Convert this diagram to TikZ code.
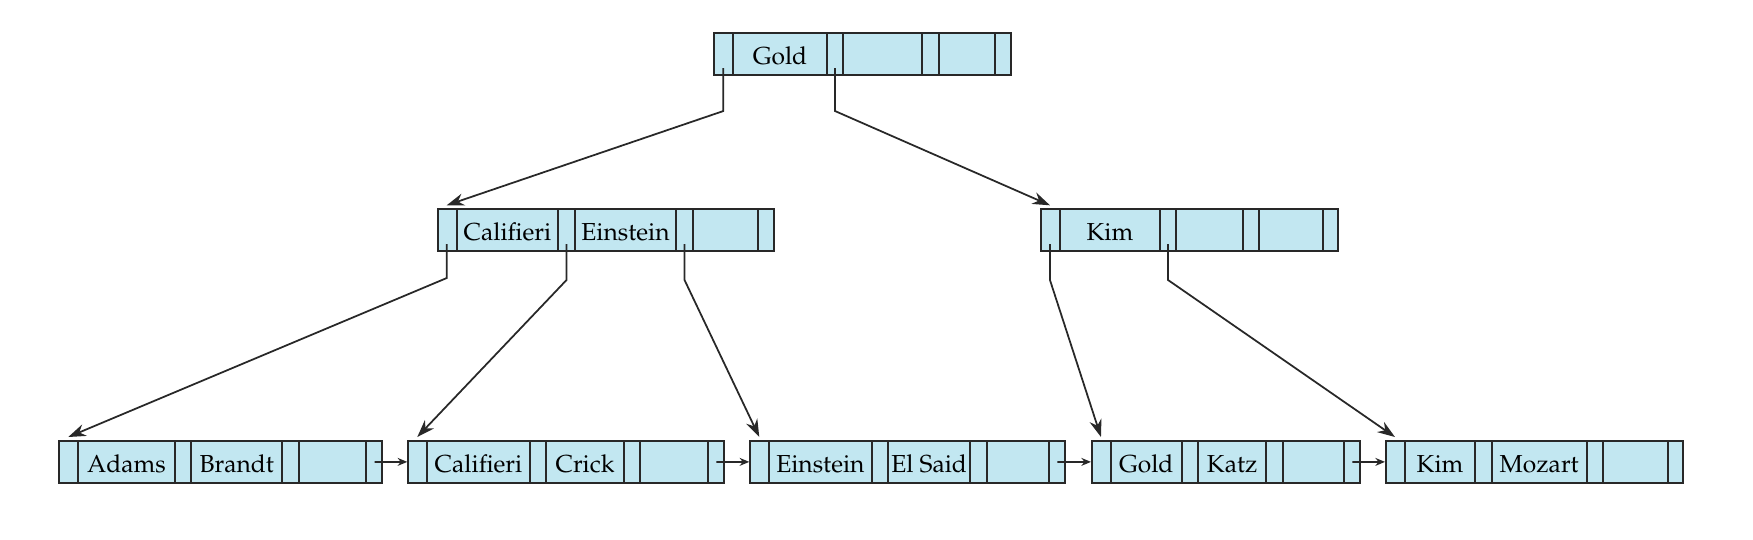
\documentclass[tikz,border=0pt]{standalone}
\usepackage[T1]{fontenc}
\usepackage{mathpazo}
\usepackage{tikz}
\usetikzlibrary{shapes.multipart, arrows.meta, calc}
\definecolor{boxfill}{RGB}{194,231,241}
\definecolor{boxline}{RGB}{40,40,40}
\newlength{\pxu}
\setlength{\pxu}{0.02cm}
% split lines take about 2px each, so cells are given 2px less
\newcommand{\cell}[2]{\makebox[#1\pxu]{\rule[-6.1pt]{0pt}{23.8pt}#2}}
\newcommand{\keys}[6]{\cell{18}{}\nodepart{two}\cell{#1}{#2}\nodepart{three}\cell{14.5}{}\nodepart{four}\cell{#3}{#4}\nodepart{five}\cell{14.5}{}\nodepart{six}\cell{#5}{#6}\nodepart{seven}\cell{14.5}{}}

\begin{document}
\begin{tikzpicture}[x=0.02cm, y=-0.02cm,
    bnode/.style={rectangle split, rectangle split horizontal, rectangle split parts=7,
        draw=boxline, fill=boxfill, line width=1.1pt, inner xsep=0pt, inner ysep=0pt,
        font=\fontsize{14}{16}\selectfont, anchor=north west},
    edge/.style={-{Stealth[length=10pt,width=7pt]}, line width=1pt, draw=boxline},
    link/.style={-{Stealth[length=5.5pt,width=4.5pt]}, line width=1pt, draw=boxline}]

    \useasboundingbox (0,0) rectangle (1753,539);

    % Root
    \node[bnode] (root) at (713.3,32.3) {\keys{91.7}{Gold}{77}{}{54.7}{}};

    % Inner nodes
    \node[bnode] (mid) at (436.7,208.3) {\keys{99.7}{Califieri}{99.7}{Einstein}{63.6}{}};
    \node[bnode] (kim) at (1040,208.3) {\keys{98}{Kim}{64.7}{}{61.4}{}};

    % Leaves
    \node[bnode] (l1) at (58.3,440) {\keys{94.7}{Adams}{89}{Brandt}{65.7}{}};
    \node[bnode] (l2) at (407.3,440) {\keys{100.6}{Califieri}{75.7}{Crick}{66}{}};
    \node[bnode] (l3) at (749.3,440) {\keys{100.4}{Einstein}{80.3}{El Said}{60.6}{}};
    \node[bnode] (l4) at (1091,440) {\keys{68.7}{Gold}{66.3}{Katz}{59.6}{}};
    \node[bnode] (l5) at (1385,440) {\keys{68.3}{Kim}{93.3}{Mozart}{62.6}{}};

    % Tree pointers
    \draw[edge] ($(root.one south)+(0,-8)$) -- ++(0,43) -- ($(mid.one north)+(0,-3)$);
    \draw[edge] ($(root.three south)+(0,-8)$) -- ++(0,43) -- ($(kim.one north)+(0,-3)$);

    \draw[edge] ($(mid.one south)+(0,-8)$) -- ++(0,34) -- ($(l1.one north)+(0,-3)$);
    \draw[edge] ($(mid.three south)+(0,-8)$) -- ++(0,36) -- ($(l2.one north)+(0,-3)$);
    \draw[edge] ($(mid.five south)+(0,-8)$) -- ++(0,36) -- ($(l3.one north)+(0,-3)$);
    \draw[edge] ($(kim.one south)+(0,-8)$) -- ++(0,36) -- ($(l4.one north)+(0,-3)$);
    \draw[edge] ($(kim.three south)+(0,-8)$) -- ++(0,36) -- ($(l5.one north)+(0,-3)$);

    % Leaf chain
    \draw[link] ($(l1.seven north)!.5!(l1.seven south)$) -- (l2.west);
    \draw[link] ($(l2.seven north)!.5!(l2.seven south)$) -- (l3.west);
    \draw[link] ($(l3.seven north)!.5!(l3.seven south)$) -- (l4.west);
    \draw[link] ($(l4.seven north)!.5!(l4.seven south)$) -- (l5.west);

\end{tikzpicture}
\end{document}
